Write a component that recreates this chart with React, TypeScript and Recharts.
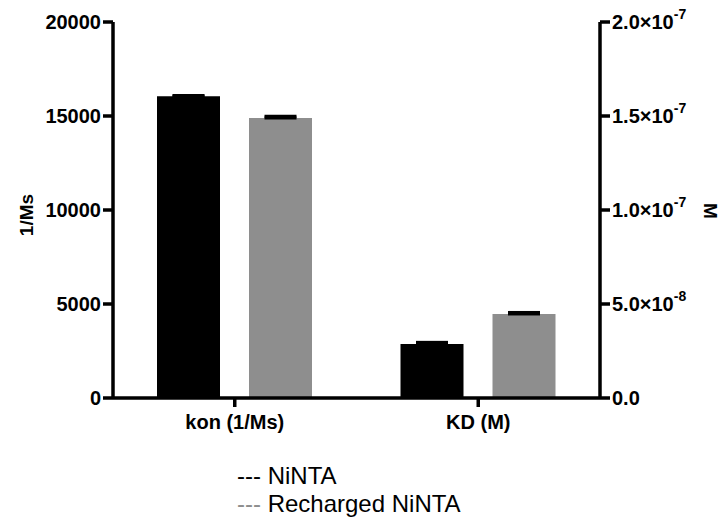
import { BarChart, Bar, XAxis, YAxis, Legend, ErrorBar } from 'recharts'

const categories = ['kon (1/Ms)', 'KD (M)']
const nintaValues = [16050, 2.87e-8]
const nintaErrors = [35, 0.09e-8]
const rechargedValues = [14900, 4.47e-8]
const rechargedErrors = [90, 0.08e-8]
const leftTicks = [0, 5000, 10000, 15000, 20000]
const rightTicks = [0, 5e-8, 1e-7, 1.5e-7, 2e-7]
const rightTickMantissas = ['0.0', '5.0×10', '1.0×10', '1.5×10', '2.0×10']
const rightTickExponents = ['', '-8', '-7', '-7', '-7']
const seriesNames = ['NiNTA', 'Recharged NiNTA']
const seriesColors = ['#000000', '#8e8e8e']

const FONT = '"Liberation Sans", Arial, Helvetica, sans-serif'

// kon lives on the left axis, KD on the right one
const data = categories.map((name, i) =>
    i === 0
        ? {
              name,
              nintaKon: nintaValues[i],
              nintaKonErr: [0, nintaErrors[i]],
              rechKon: rechargedValues[i],
              rechKonErr: [0, rechargedErrors[i]],
          }
        : {
              name,
              nintaKd: nintaValues[i],
              nintaKdErr: [0, nintaErrors[i]],
              rechKd: rechargedValues[i],
              rechKdErr: [0, rechargedErrors[i]],
          }
)

function RightTick(props: any) {
    const { x, y, payload } = props
    const idx = rightTicks.indexOf(payload.value)
    return (
        <text x={x} y={y} dy={7} textAnchor="start" fontFamily={FONT} fontWeight="bold" fontSize={20} fill="#000">
            {rightTickMantissas[idx]}
            {rightTickExponents[idx] && (
                <tspan dy={-10} fontSize={14}>
                    {rightTickExponents[idx]}
                </tspan>
            )}
        </text>
    )
}

function LegendContent(props: any) {
    const items = (props.payload || []).filter((p: any) => seriesNames.includes(p.value))
    return (
        <div style={{ fontFamily: FONT, fontSize: 24, lineHeight: '28px', color: '#000', whiteSpace: 'nowrap' }}>
            {items.map((p: any) => (
                <div key={p.value}>
                    <span style={{ color: p.color }}>---</span> {p.value}
                </div>
            ))}
        </div>
    )
}

const axisLine = { stroke: '#000', strokeWidth: 3.5 }
const tickStyle = { fill: '#000', fontFamily: FONT, fontWeight: 'bold', fontSize: 20 }

export default function App() {
    return (
        <div style={{ position: 'absolute', left: 0, top: 0, background: '#fff' }}>
            <BarChart
                width={722}
                height={520}
                data={data}
                margin={{ top: 22, right: 0, left: 0, bottom: 82 }}
                barSize={63}
                barGap={29}
            >
                <XAxis
                    dataKey="name"
                    height={40}
                    axisLine={axisLine}
                    tickLine={axisLine}
                    tickSize={9}
                    tickMargin={8}
                    tick={tickStyle}
                />
                <YAxis
                    yAxisId="left"
                    domain={[0, 20000]}
                    ticks={leftTicks}
                    width={113}
                    axisLine={axisLine}
                    tickLine={axisLine}
                    tickSize={10}
                    tickMargin={2}
                    tick={tickStyle}
                    label={{
                        value: '1/Ms',
                        content: ({ viewBox }: any) => {
                            const cx = viewBox.x + 33
                            const cy = viewBox.y + viewBox.height / 2 + 5
                            return (
                                <text x={cx} y={cy} transform={`rotate(-90 ${cx} ${cy})`} textAnchor="middle" fontFamily={FONT} fontWeight="bold" fontSize={19} fill="#000">
                                    1/Ms
                                </text>
                            )
                        },
                    }}
                />
                <YAxis
                    yAxisId="right"
                    orientation="right"
                    domain={[0, 2e-7]}
                    ticks={rightTicks}
                    width={122}
                    axisLine={axisLine}
                    tickLine={axisLine}
                    tickSize={10}
                    tickMargin={2}
                    tick={<RightTick />}
                    label={{
                        value: 'M',
                        content: ({ viewBox }: any) => {
                            const cx = viewBox.x + 104
                            const cy = viewBox.y + viewBox.height / 2 + 1
                            return (
                                <text x={cx} y={cy} transform={`rotate(90 ${cx} ${cy})`} textAnchor="middle" fontFamily={FONT} fontWeight="bold" fontSize={19} fill="#000">
                                    M
                                </text>
                            )
                        },
                    }}
                />
                <Legend
                    layout="vertical"
                    align="center"
                    verticalAlign="middle"
                    content={<LegendContent />}
                    wrapperStyle={{ left: 237, top: 462, width: 'auto' }}
                />
                <Bar yAxisId="left" dataKey="nintaKon" stackId="ninta" name={seriesNames[0]} fill={seriesColors[0]} isAnimationActive={false}>
                    <ErrorBar dataKey="nintaKonErr" width={16} stroke="#000" strokeWidth={3} isAnimationActive={false} />
                </Bar>
                <Bar yAxisId="right" dataKey="nintaKd" stackId="ninta" legendType="none" fill={seriesColors[0]} isAnimationActive={false}>
                    <ErrorBar dataKey="nintaKdErr" width={16} stroke="#000" strokeWidth={3} isAnimationActive={false} />
                </Bar>
                <Bar yAxisId="left" dataKey="rechKon" stackId="rech" name={seriesNames[1]} fill={seriesColors[1]} isAnimationActive={false}>
                    <ErrorBar dataKey="rechKonErr" width={16} stroke="#000" strokeWidth={3} isAnimationActive={false} />
                </Bar>
                <Bar yAxisId="right" dataKey="rechKd" stackId="rech" legendType="none" fill={seriesColors[1]} isAnimationActive={false}>
                    <ErrorBar dataKey="rechKdErr" width={16} stroke="#000" strokeWidth={3} isAnimationActive={false} />
                </Bar>
            </BarChart>
        </div>
    )
}
